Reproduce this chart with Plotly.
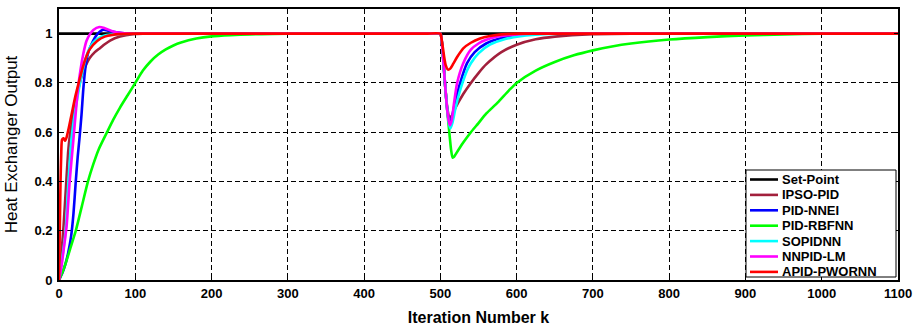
import plotly.graph_objects as go

# ---------------- data ----------------
names = ["Set-Point", "IPSO-PID", "PID-NNEI", "PID-RBFNN", "SOPIDNN", "NNPID-LM", "APID-PWORNN"]
colors = ["#000000", "#A2203C", "#0000FF", "#00FF00", "#00FFFF", "#FF00FF", "#FF0000"]

sp_k = [0, 1100]
sp_y = [1, 1]

ipso_k = [0, 3, 6, 9, 12, 14, 17, 20, 25, 30, 35, 40, 47, 54, 60, 67, 80, 97, 110, 130, 480,
          500, 501, 503, 506, 509, 512, 516, 520, 530, 540, 550, 560, 580, 600, 625, 650, 700, 750, 780, 1100]
ipso_y = [0, 0.1, 0.22, 0.37, 0.52, 0.58, 0.64, 0.69, 0.77, 0.83, 0.87, 0.9, 0.925, 0.942, 0.957, 0.972, 0.988, 0.998, 1.0, 1.0, 1.0,
          1.0, 0.99, 0.93, 0.8, 0.7, 0.66, 0.67, 0.7, 0.755, 0.8, 0.84, 0.875, 0.925, 0.955, 0.977, 0.988, 0.998, 1.0, 1.0, 1.0]

nnei_k = [0, 4, 8, 12, 16, 19, 22, 24.5, 27, 29.5, 32, 35, 38, 43, 50, 58, 65, 75, 90, 110, 480,
          500, 501, 503, 506, 509, 511, 512.5, 515, 520, 526, 535, 545, 560, 580, 600, 630, 660, 1100]
nnei_y = [0, 0.025, 0.06, 0.11, 0.18, 0.27, 0.4, 0.5, 0.58, 0.67, 0.78, 0.87, 0.92, 0.96, 0.997, 1.016, 1.012, 1.005, 1.0, 1.0, 1.0,
          1.0, 0.99, 0.93, 0.8, 0.69, 0.648, 0.635, 0.66, 0.73, 0.8, 0.88, 0.925, 0.96, 0.982, 0.993, 1.0, 1.0, 1.0]

rbf_k = [0, 5, 10, 15, 22, 30, 38, 45, 52, 63, 71, 80, 90, 100, 110, 120, 130, 140, 150, 160, 180, 200, 225, 250, 280, 320,
         350, 480,
         500, 501, 503, 506, 509, 512, 514, 516, 518, 520, 530, 540, 550, 560, 575, 590, 600, 625, 650, 675, 700, 725, 750,
         800, 850, 900, 950, 1000, 1030, 1100]
rbf_y = [0, 0.035, 0.08, 0.13, 0.2, 0.3, 0.4, 0.47, 0.53, 0.6, 0.65, 0.7, 0.75, 0.8, 0.85, 0.887, 0.915, 0.936, 0.952, 0.964,
         0.98, 0.989, 0.994, 0.997, 0.999, 1.0, 1.0, 1.0,
         1.0, 0.99, 0.93, 0.8, 0.69, 0.59, 0.53, 0.497, 0.5, 0.51, 0.558, 0.6, 0.637, 0.675, 0.72, 0.77, 0.8, 0.85, 0.885,
         0.912, 0.932, 0.948, 0.96, 0.976, 0.986, 0.993, 0.997, 1.0, 1.0, 1.0]

sopid_k = [0, 3, 6, 8.7, 12, 15.7, 19, 23, 27, 31, 35, 40, 45, 52, 60, 75, 100, 120, 480,
           500, 501, 503, 506, 509, 511, 513, 516, 520, 525, 529, 535, 540, 550, 565, 585, 605, 640, 660, 690, 1100]
sopid_y = [0, 0.06, 0.13, 0.2, 0.38, 0.55, 0.64, 0.72, 0.79, 0.85, 0.9, 0.94, 0.965, 0.982, 0.992, 0.998, 1.0, 1.0, 1.0,
           1.0, 0.99, 0.93, 0.8, 0.69, 0.64, 0.615, 0.64, 0.7, 0.76, 0.8, 0.85, 0.88, 0.92, 0.955, 0.978, 0.99, 0.999, 1.0, 1.0, 1.0]

lm_k = [0, 3, 6, 10, 14, 18.8, 22, 25, 28, 32, 36, 40, 45, 53, 60, 70, 80, 95, 115, 480,
        500, 501, 503, 506, 509, 511, 512.5, 515, 518, 522, 530, 540, 550, 560, 575, 600, 620, 650, 1100]
lm_y = [0, 0.05, 0.12, 0.22, 0.4, 0.567, 0.68, 0.78, 0.85, 0.92, 0.97, 0.995, 1.015, 1.027, 1.022, 1.01, 1.003, 1.0, 1.0, 1.0,
        1.0, 0.99, 0.93, 0.8, 0.69, 0.645, 0.628, 0.65, 0.72, 0.8, 0.88, 0.935, 0.96, 0.975, 0.988, 0.997, 1.0, 1.0, 1.0]

apid_k = [0, 1, 2, 3, 4, 6, 8, 10, 13, 17, 21, 25, 30, 35, 40, 50, 60, 70, 80, 100, 120, 480,
          500, 501, 503, 505, 507, 510, 513, 517, 522, 530, 540, 552, 565, 580, 600, 630, 1100]
apid_y = [0, 0.2, 0.4, 0.52, 0.57, 0.575, 0.565, 0.58, 0.62, 0.68, 0.74, 0.79, 0.85, 0.9, 0.935, 0.97, 0.988, 0.995, 0.998, 1.0,
          1.0, 1.0,
          1.0, 0.99, 0.95, 0.905, 0.872, 0.854, 0.858, 0.878, 0.905, 0.94, 0.963, 0.98, 0.99, 0.997, 1.0, 1.0, 1.0]

series_k = [sp_k, ipso_k, nnei_k, rbf_k, sopid_k, lm_k, apid_k]
series_y = [sp_y, ipso_y, nnei_y, rbf_y, sopid_y, lm_y, apid_y]

x_ticks = list(range(0, 1101, 100))
y_ticks = [0, 0.2, 0.4, 0.6, 0.8, 1]
y_tick_labels = ["0", "0.2", "0.4", "0.6", "0.8", "1"]

# ---------------- figure ----------------
FONT = "Liberation Sans, Arial, Helvetica, sans-serif"
fig = go.Figure()
for name, col, ks, ys in zip(names, colors, series_k, series_y):
    fig.add_trace(go.Scatter(x=ks, y=ys, mode="lines", name=name,
                             line=dict(color=col, width=2.6, shape="spline", smoothing=0.6),
                             showlegend=False))

axis_common = dict(showline=True, linecolor="black", linewidth=1.8, mirror="ticks",
                   ticks="inside", ticklen=4, tickwidth=1, tickcolor="black",
                   showgrid=True, gridcolor="black", gridwidth=1.1, griddash="5px,3px",
                   zeroline=False, automargin=False,
                   tickfont=dict(family=FONT, size=13, color="black", weight="bold"))

fig.update_xaxes(range=[0, 1100], tickvals=x_ticks, **axis_common,
                 title=dict(text="Iteration Number k", standoff=12,
                            font=dict(family=FONT, size=16, color="black", weight="bold")))
fig.update_yaxes(range=[0, 1.1], tickvals=y_ticks, ticktext=y_tick_labels, **axis_common,
                 ticklabelstandoff=2,
                 title=dict(text="Heat Exchanger Output", standoff=12,
                            font=dict(family=FONT, size=17, color="black")))

# ---------------- legend (drawn as text + line samples) ----------------
pl, pr, pt, pb = 59, 23, 9, 47
W, H = 921, 327
pw, ph = W - pl - pr, H - pt - pb

def px2x(p):
    return (p - pl) / pw

def py2y(p):
    return (H - pb - p) / ph

shapes = [dict(type="rect", xref="paper", yref="paper",
               x0=px2x(746), x1=px2x(896), y0=py2y(277), y1=py2y(170),
               line=dict(color="black", width=1), fillcolor="white", layer="above")]
annotations = []
for i, (name, col) in enumerate(zip(names, colors)):
    yy = py2y(179.5 + i * 15.4)
    shapes.append(dict(type="line", xref="paper", yref="paper",
                       x0=px2x(750), x1=px2x(778), y0=yy, y1=yy,
                       line=dict(color=col, width=2.6), layer="above"))
    annotations.append(dict(xref="paper", yref="paper", x=px2x(781), y=yy,
                            xanchor="left", yanchor="middle", showarrow=False,
                            text=name, borderpad=0,
                            font=dict(family=FONT, size=13, color="black", weight="bold")))

fig.update_layout(width=W, height=H, margin=dict(l=pl, r=pr, t=pt, b=pb),
                  paper_bgcolor="white", plot_bgcolor="white",
                  shapes=shapes, annotations=annotations)

fig.write_html("out.html", config={"displayModeBar": False},
               post_script="document.body.style.margin='0';document.body.style.overflow='hidden';")
